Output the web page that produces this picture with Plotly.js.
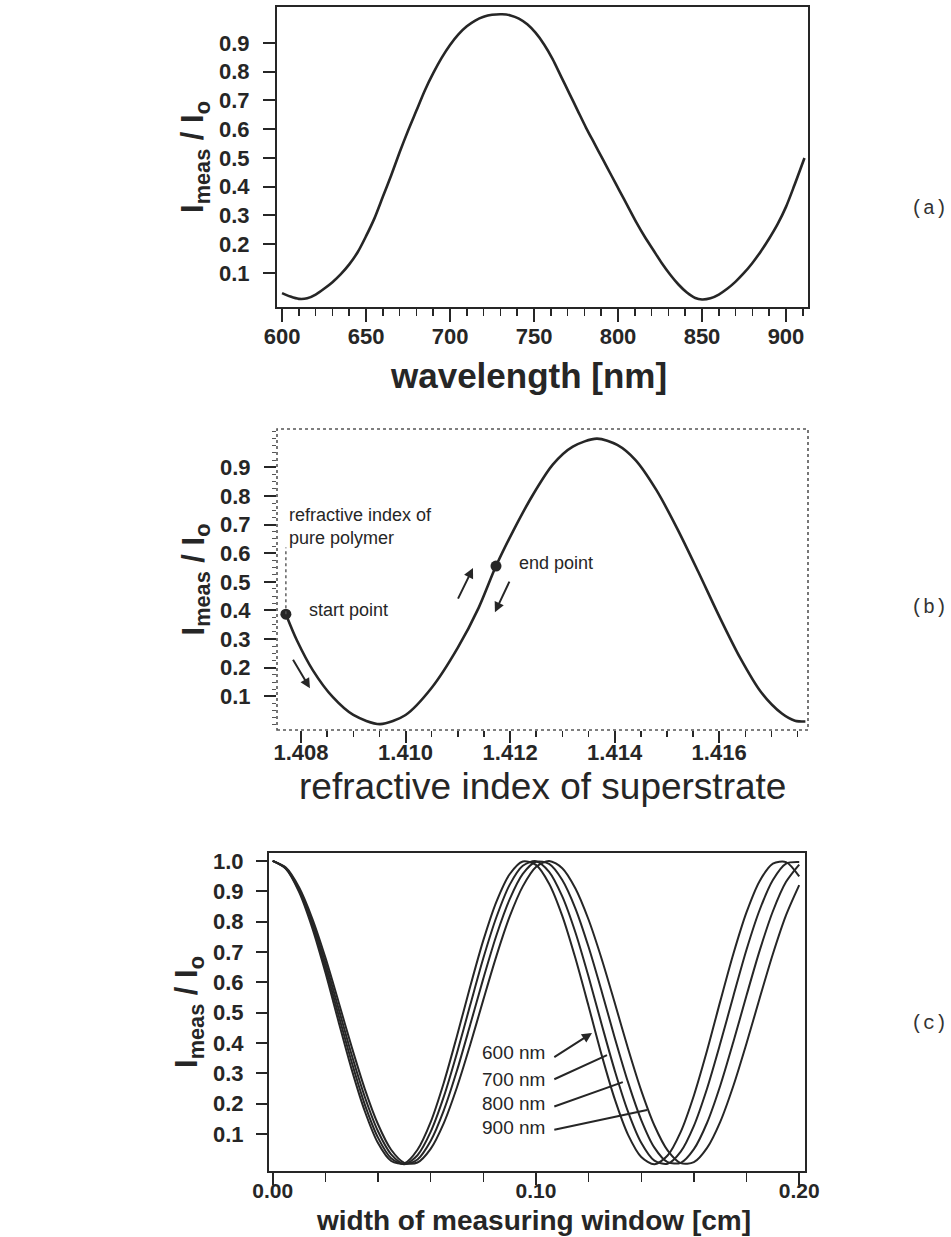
<!DOCTYPE html>
<html>
<head>
<meta charset="utf-8">
<script src="https://cdn.plot.ly/plotly-3.0.1.min.js"></script>
<style>html,body{margin:0;padding:0;background:#fff;}#chart{width:951px;height:1237px;}</style>
</head>
<body>
<div id="chart"></div>
<script>
// ---- Panel (a): intensity vs wavelength ----
const aWavelength = [600,605,610,615,620,625,630,635,640,645,650,655,660,665,670,675,680,685,690,695,700,705,710,715,720,725,731,736,741,746,751,756,761,766,771,776,781,786,791,796,801,806,811,816,821,826,831,836,841,846,850,855,860,865,870,875,880,885,890,895,900,905,911];
const aIntensity  = [0.030,0.018,0.010,0.012,0.025,0.045,0.068,0.096,0.130,0.172,0.228,0.290,0.365,0.440,0.520,0.595,0.665,0.735,0.795,0.848,0.893,0.930,0.958,0.978,0.991,0.998,1.000,0.996,0.985,0.965,0.935,0.895,0.845,0.785,0.725,0.665,0.605,0.550,0.495,0.440,0.385,0.330,0.275,0.225,0.180,0.135,0.095,0.060,0.032,0.013,0.008,0.012,0.025,0.045,0.070,0.100,0.135,0.175,0.220,0.270,0.330,0.405,0.500];
const aTickVals = [600,650,700,750,800,850,900];
const yTickVals9 = [0.1,0.2,0.3,0.4,0.5,0.6,0.7,0.8,0.9];
const yTickText9 = ['0.1','0.2','0.3','0.4','0.5','0.6','0.7','0.8','0.9'];

// ---- Panel (b): intensity vs refractive index of superstrate ----
const bIndex = [1.40771,1.40792,1.40823,1.40861,1.40900,1.40951,1.41000,1.41050,1.41100,1.41140,1.41173,1.41206,1.41244,1.41282,1.41320,1.41366,1.41405,1.41440,1.41480,1.41520,1.41560,1.41600,1.41640,1.41680,1.41720,1.41745,1.41765];
const bIntensity = [0.387,0.296,0.190,0.097,0.035,0.003,0.035,0.130,0.270,0.410,0.555,0.678,0.805,0.910,0.972,1.000,0.978,0.925,0.820,0.685,0.535,0.380,0.235,0.115,0.040,0.015,0.012];
const bTickVals = [1.408,1.410,1.412,1.414,1.416];
const bTickText = ['1.408','1.410','1.412','1.414','1.416'];
const bStartPoint = {n:1.40771, v:0.387};
const bEndPoint = {n:1.41173, v:0.555};

// ---- Panel (c): intensity vs width of measuring window ----
const cWidth = [0,0.005,0.01,0.015,0.02,0.025,0.03,0.035,0.04,0.045,0.05,0.055,0.06,0.065,0.07,0.075,0.08,0.085,0.09,0.095,0.10,0.105,0.11,0.115,0.12,0.125,0.13,0.135,0.14,0.145,0.15,0.155,0.16,0.165,0.17,0.175,0.18,0.185,0.19,0.195,0.20];
const c600 = [1,.974,.898,.780,.633,.471,.313,.175,.070,.011,.003,.048,.139,.269,.423,.585,.738,.866,.956,.998,.987,.925,.819,.679,.521,.359,.213,.097,.024,.000,.029,.107,.227,.375,.537,.694,.831,.934,.991,.996,.949];
const c700 = [1,.975,.903,.790,.649,.492,.337,.197,.088,.020,.000,.030,.107,.223,.367,.524,.679,.815,.921,.984,.999,.964,.883,.764,.618,.460,.307,.173,.071,.012,.002,.042,.127,.250,.398,.555,.708,.839,.937,.991,.996];
const c800 = [1,.976,.908,.801,.665,.514,.361,.222,.109,.033,.001,.016,.077,.178,.309,.459,.612,.755,.873,.957,.997,.990,.937,.843,.716,.569,.415,.270,.146,.055,.007,.005,.050,.137,.259,.404,.557,.705,.834,.931,.988];
const c900 = [1,.978,.913,.811,.682,.536,.387,.248,.132,.048,.005,.006,.051,.136,.254,.393,.542,.687,.816,.916,.980,1.000,.976,.909,.806,.676,.530,.381,.243,.128,.046,.004,.007,.054,.140,.259,.399,.548,.693,.821,.920];
const cSeriesLabels = ['600 nm','700 nm','800 nm','900 nm'];
const cTickVals = [0,0.1,0.2];
const cTickText = ['0.00','0.10','0.20'];
const cYTickVals = [0.1,0.2,0.3,0.4,0.5,0.6,0.7,0.8,0.9,1.0];
const cYTickText = ['0.1','0.2','0.3','0.4','0.5','0.6','0.7','0.8','0.9','1.0'];

// ---- styling ----
const W = 951, H = 1237;
const INK = '#262626';
const FONT = 'Liberation Sans, Arial, Helvetica, sans-serif';
const px = x => x / W;
const py = y => 1 - y / H;
const tickFont = {family: FONT, size: 22, color: INK, weight: 'bold'};
const NB = '\u00a0';
const yTitleText = 'I<sub>meas</sub>' + NB + '/' + NB + 'I<sub>o</sub>';
const yTitle = {text: yTitleText, font: {family: FONT, size: 31, color: INK, weight: 'bold'}, standoff: 6};

function lineTrace(x, y, xa, ya, w) {
  return {x: x, y: y, xaxis: xa, yaxis: ya, type: 'scatter', mode: 'lines',
          line: {color: INK, width: w, shape: 'spline', smoothing: 0.8}, hoverinfo: 'skip'};
}

const traces = [
  lineTrace(aWavelength, aIntensity, 'x', 'y', 2.6),
  lineTrace(bIndex, bIntensity, 'x2', 'y2', 2.6),
  {x: [bStartPoint.n, bEndPoint.n], y: [bStartPoint.v, bEndPoint.v], xaxis: 'x2', yaxis: 'y2',
   type: 'scatter', mode: 'markers', marker: {color: INK, size: 11}, hoverinfo: 'skip'},
  lineTrace(cWidth, c600, 'x3', 'y3', 2),
  lineTrace(cWidth, c700, 'x3', 'y3', 2),
  lineTrace(cWidth, c800, 'x3', 'y3', 2),
  lineTrace(cWidth, c900, 'x3', 'y3', 2)
];

const baseAxis = {
  showgrid: false, zeroline: false, ticks: 'outside', tickcolor: INK, tickwidth: 2,
  tickfont: tickFont, linecolor: INK, linewidth: 2
};

const layout = {
  width: W, height: H, margin: {l: 0, r: 0, t: 0, b: 0},
  paper_bgcolor: '#fff', plot_bgcolor: '#fff', showlegend: false,
  // panel (a)
  xaxis: Object.assign({}, baseAxis, {
    domain: [px(277), px(808)], anchor: 'y', range: [597.0, 913.1],
    tickvals: aTickVals, ticklen: 13, showline: true, mirror: true, ticklabelstandoff: -4,
    minor: {dtick: 10, tick0: 600, ticks: 'outside', ticklen: 7, tickwidth: 1.5, tickcolor: INK}
  }),
  yaxis: Object.assign({}, baseAxis, {
    domain: [py(307), py(7)], anchor: 'x', range: [-0.0183, 1.0252],
    tickvals: yTickVals9, ticktext: yTickText9, ticklen: 12, showline: true, mirror: true, ticklabelstandoff: 9,
    title: yTitle
  }),
  // panel (b)
  xaxis2: Object.assign({}, baseAxis, {
    domain: [px(277), px(808)], anchor: 'y2', range: [1.40754, 1.41770],
    tickvals: bTickVals, ticktext: bTickText, ticklen: 12, showline: false, ticklabelstandoff: -9,
    minor: {dtick: 0.0005, tick0: 1.408, ticks: 'outside', ticklen: 6, tickwidth: 1.5, tickcolor: INK}
  }),
  yaxis2: Object.assign({}, baseAxis, {
    domain: [py(730), py(429)], anchor: 'x2', range: [-0.0175, 1.0336],
    tickvals: yTickVals9, ticktext: yTickText9, ticklen: 12, showline: false, ticklabelstandoff: 9,
    minor: {dtick: 0.025, tick0: 0, ticks: 'outside', ticklen: 4, tickwidth: 1, tickcolor: '#555'},
    title: yTitle
  }),
  // panel (c)
  xaxis3: Object.assign({}, baseAxis, {
    domain: [px(269), px(805)], anchor: 'y3', range: [-0.0014, 0.2022],
    tickvals: cTickVals, ticktext: cTickText, ticklen: 12, showline: true, mirror: true, ticklabelstandoff: -12,
    tickfont: {family: FONT, size: 21, color: INK, weight: 'bold'},
    minor: {dtick: 0.02, tick0: 0, ticks: 'outside', ticklen: 9, tickwidth: 1.5, tickcolor: INK}
  }),
  yaxis3: Object.assign({}, baseAxis, {
    domain: [py(1171), py(853)], anchor: 'x3', range: [-0.022, 1.026],
    tickvals: cYTickVals, ticktext: cYTickText, ticklen: 11, showline: true, mirror: true, ticklabelstandoff: 8,
    title: yTitle
  }),
  shapes: [
    {type: 'rect', xref: 'x2 domain', yref: 'y2 domain', x0: 0, x1: 1, y0: 0, y1: 1,
     line: {color: '#555', width: 1.6, dash: 'dot'}},
    {type: 'line', xref: 'x2', yref: 'y2', x0: bStartPoint.n, x1: bStartPoint.n, y0: bStartPoint.v, y1: 0.62,
     line: {color: '#555', width: 1.4, dash: 'dot'}}
  ],
  annotations: []
};

const A = layout.annotations;
function paperText(text, x, y, font, extra) {
  A.push(Object.assign({text: text, x: px(x), y: py(y), xref: 'paper', yref: 'paper',
    xanchor: 'center', yanchor: 'middle', showarrow: false, font: font}, extra || {}));
}
paperText('wavelength [nm]', 528, 375, {family: FONT, size: 35, color: INK, weight: 'bold'});
paperText('refractive index of superstrate', 542, 786, {family: FONT, size: 37, color: INK});
paperText('width of measuring window [cm]', 533, 1220, {family: FONT, size: 28, color: INK, weight: 'bold'});
const tagFont = {family: 'Liberation Mono, Courier New, monospace', size: 20, color: '#333'};
paperText('(a)', 909, 208, tagFont, {xanchor: 'left'});
paperText('(b)', 909, 607, tagFont, {xanchor: 'left'});
paperText('(c)', 909, 1023, tagFont, {xanchor: 'left'});

// panel (b) notes
const noteFont = {family: FONT, size: 18, color: INK};
A.push({text: 'refractive index of<br>pure polymer', xref: 'x2', yref: 'y2', x: 1.40773, y: 0.694,
        xanchor: 'left', yanchor: 'middle', align: 'left', showarrow: false, font: noteFont});
A.push({text: 'start point', xref: 'x2', yref: 'y2', x: 1.40811, y: 0.40, xanchor: 'left',
        showarrow: false, font: noteFont});
A.push({text: 'end point', xref: 'x2', yref: 'y2', x: 1.41213, y: 0.565, xanchor: 'left',
        showarrow: false, font: noteFont});
function arrow(xr, yr, x, y, ax, ay, head) {
  A.push({text: '', xref: xr, yref: yr, axref: xr, ayref: yr, x: x, y: y, ax: ax, ay: ay,
          showarrow: true, arrowhead: head, arrowsize: 1, arrowwidth: 2, arrowcolor: INK,
          standoff: 0, startstandoff: 0});
}
arrow('x2', 'y2', 1.40817, 0.128, 1.40783, 0.233, 2);
arrow('x2', 'y2', 1.41129, 0.548, 1.41099, 0.436, 2);
arrow('x2', 'y2', 1.41171, 0.394, 1.41200, 0.506, 2);

// panel (c) labels
const cLabelY = [0.367, 0.278, 0.202, 0.120];
const cTip = [[0.1213, 0.433], [0.1270, 0.360], [0.1330, 0.271], [0.1422, 0.179]];
const cTail = [[0.1064, 0.350], [0.1064, 0.278], [0.1064, 0.189], [0.1064, 0.113]];
cSeriesLabels.forEach((lab, i) => {
  A.push({text: lab, xref: 'x3', yref: 'y3', x: 0.1043, y: cLabelY[i], xanchor: 'right',
          showarrow: false, font: {family: FONT, size: 19, color: INK}});
  arrow('x3', 'y3', cTip[i][0], cTip[i][1], cTail[i][0], cTail[i][1], i === 0 ? 2 : 0);
});

Plotly.newPlot('chart', traces, layout, {staticPlot: true, displayModeBar: false});
</script>
</body>
</html>
